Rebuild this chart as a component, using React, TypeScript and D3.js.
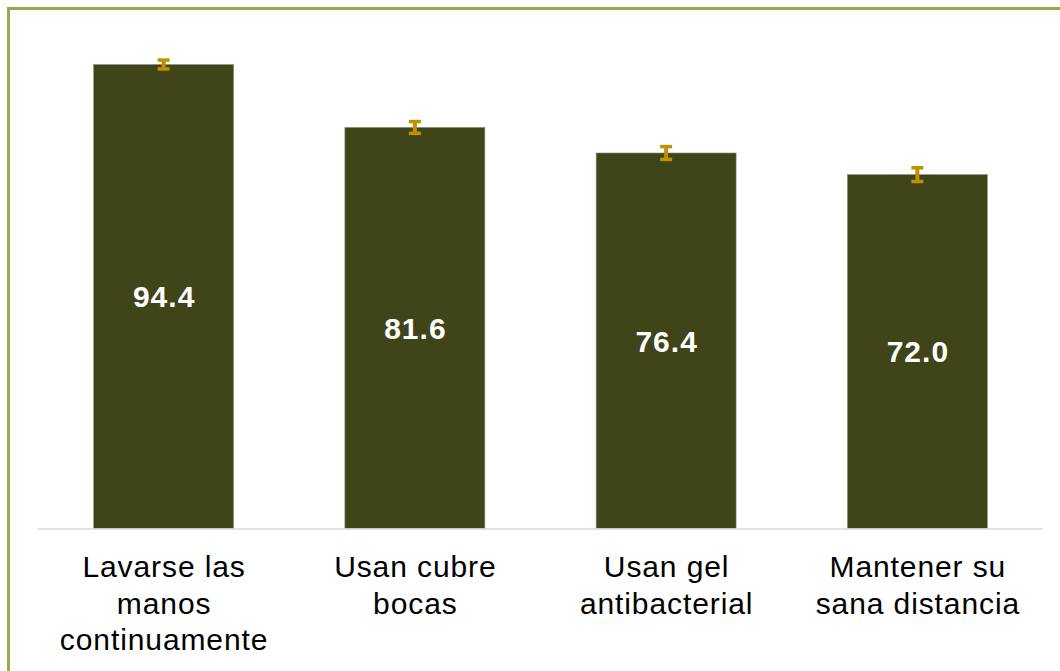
import React from 'react'
import * as d3 from 'd3'

const categories = ['Lavarse las manos continuamente', 'Usan cubre bocas', 'Usan gel antibacterial', 'Mantener su sana distancia']
const labelLines = [
  ['Lavarse las', 'manos', 'continuamente'],
  ['Usan cubre', 'bocas'],
  ['Usan gel', 'antibacterial'],
  ['Mantener su', 'sana distancia']
]
const values = [94.4, 81.6, 76.4, 72.0]
const errors = [0.9, 1.2, 1.3, 1.4]

const W = 1060
const H = 671
const FONT = '"Liberation Sans", Arial, sans-serif'

export default function App() {
  const baseY = 528.5
  const x = d3.scaleBand<string>()
    .domain(categories)
    .range([38, 1043])
    .paddingInner(0.443)
    .paddingOuter(0.2215)
  // 94.4 -> top at ~64
  const y = d3.scaleLinear().domain([0, 100]).range([baseY, baseY - 491.5])

  return (
    <svg width={W} height={H} style={{ position: 'absolute', left: 0, top: 0, background: '#fff' }}>
      {/* frame */}
      <rect x={8.5} y={8.5} width={W + 20} height={H + 20} fill="none" stroke="#9aaa48" strokeWidth={3} />

      {/* bars */}
      {categories.map((c, i) => (
        <rect key={c} x={x(c)} y={y(values[i])} width={x.bandwidth()} height={baseY - y(values[i])}
          fill="#3f4419" stroke="#8a8d78" strokeWidth={0.6} />
      ))}

      {/* axis line */}
      <line x1={38} x2={1043} y1={529} y2={529} stroke="#d9d9d9" strokeWidth={1.5} />

      {/* error bars */}
      {categories.map((c, i) => {
        const cx = (x(c) as number) + x.bandwidth() / 2
        const y0 = y(values[i] + errors[i])
        const y1 = y(values[i] - errors[i])
        return (
          <g key={c + '-err'} stroke="#bf9000" fill="none" strokeLinecap="butt">
            <line x1={cx} x2={cx} y1={y0} y2={y1} strokeWidth={4} />
            <line x1={cx - 6} x2={cx + 6} y1={y0} y2={y0} strokeWidth={3.5} />
            <line x1={cx - 6} x2={cx + 6} y1={y1} y2={y1} strokeWidth={3.5} />
          </g>
        )
      })}

      {/* value labels */}
      {categories.map((c, i) => (
        <text key={c + '-v'} x={(x(c) as number) + x.bandwidth() / 2 + 0.5} y={(y(values[i]) + baseY) / 2}
          dy="0.36em" textAnchor="middle" fill="#fff" fontFamily={FONT} fontWeight="bold" fontSize={30}
          letterSpacing={1}>
          {d3.format('.1f')(values[i])}
        </text>
      ))}

      {/* category labels */}
      {categories.map((c, i) => (
        <text key={c + '-l'} x={(x(c) as number) + x.bandwidth() / 2} y={577} textAnchor="middle"
          fill="#000" fontFamily={FONT} fontSize={30} letterSpacing={0.9}>
          {labelLines[i].map((ln, j) => (
            <tspan key={j} x={(x(c) as number) + x.bandwidth() / 2 + 0.5} dy={j === 0 ? 0 : 36.5}>{ln}</tspan>
          ))}
        </text>
      ))}
    </svg>
  )
}
